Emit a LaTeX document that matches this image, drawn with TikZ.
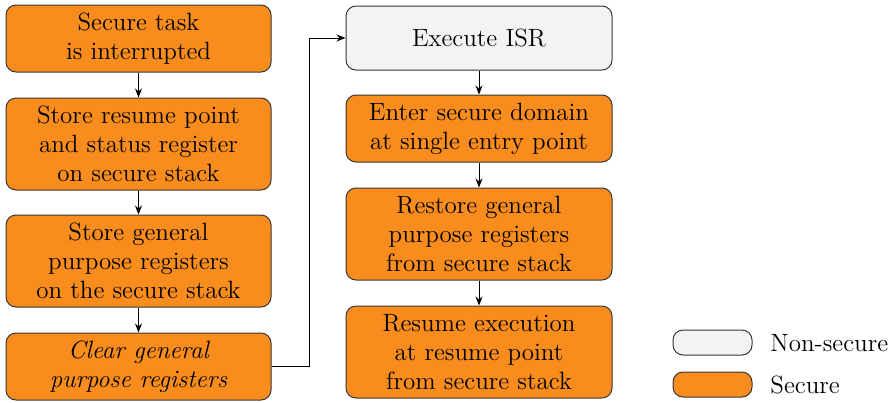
\documentclass[tikz,border=0pt]{standalone}
\usetikzlibrary{arrows.meta}
\definecolor{secorange}{RGB}{248,140,28}
\definecolor{nsgray}{RGB}{243,243,243}
\definecolor{edgegray}{RGB}{55,55,55}
\begin{document}
\begin{tikzpicture}[x=0.5pt,y=-0.5pt,
  box/.style={draw=edgegray, line width=0.5pt, rounded corners=5pt, align=center,
    font=\fontsize{12.5}{14.5}\selectfont, inner sep=0pt},
  secure/.style={box, fill=secorange},
  nonsecure/.style={box, fill=nsgray},
  flow/.style={-{Stealth[length=4.5pt,width=3.5pt]}, line width=0.45pt, draw=black},
  legtext/.style={anchor=west, font=\fontsize{12.5}{14.5}\selectfont, inner sep=0pt}]
\useasboundingbox (0,0) rectangle (893,402);

% left column: saving the secure context
\node[secure, minimum width=132.5pt, minimum height=33.5pt] (l1) at (138.5,38.5)
  {Secure task\\is interrupted};
\node[secure, minimum width=132.5pt, minimum height=46pt] (l2) at (138.5,144)
  {Store resume point\\and status register\\on secure stack};
\node[secure, minimum width=132.5pt, minimum height=46pt] (l3) at (138.5,261)
  {Store general\\purpose registers\\on the secure stack};
\node[secure, minimum width=132.5pt, minimum height=33.5pt] (l4) at (138.5,366.5)
  {\itshape Clear general\\\itshape purpose registers};

% right column: handling the interrupt and returning
\node[nonsecure, minimum width=133pt, minimum height=32pt] (r1) at (479,38)
  {Execute ISR};
\node[secure, minimum width=133pt, minimum height=33.5pt] (r2) at (479,128.5)
  {Enter secure domain\\at single entry point};
\node[secure, minimum width=133pt, minimum height=46pt] (r3) at (479,234)
  {Restore general\\purpose registers\\from secure stack};
\node[secure, minimum width=133pt, minimum height=46pt] (r4) at (479,352)
  {Resume execution\\at resume point\\from secure stack};

\draw[flow] (l1) -- (l2);
\draw[flow] (l2) -- (l3);
\draw[flow] (l3) -- (l4);
\coordinate (bend) at (309,0);
\draw[flow] (l4.east) -| (bend |- r1.west) -- (r1.west);
\draw[flow] (r1) -- (r2);
\draw[flow] (r2) -- (r3);
\draw[flow] (r3) -- (r4);

% legend
\node[nonsecure, minimum width=39.5pt, minimum height=12.5pt] (kns) at (712.5,342.5) {};
\node[secure, minimum width=39.5pt, minimum height=12.5pt] (ks) at (712.5,384.5) {};
\node[legtext] (tns) at (770,343) {Non-secure};
\node[legtext] (ts) at (770,385) {Secure};
\end{tikzpicture}
\end{document}
